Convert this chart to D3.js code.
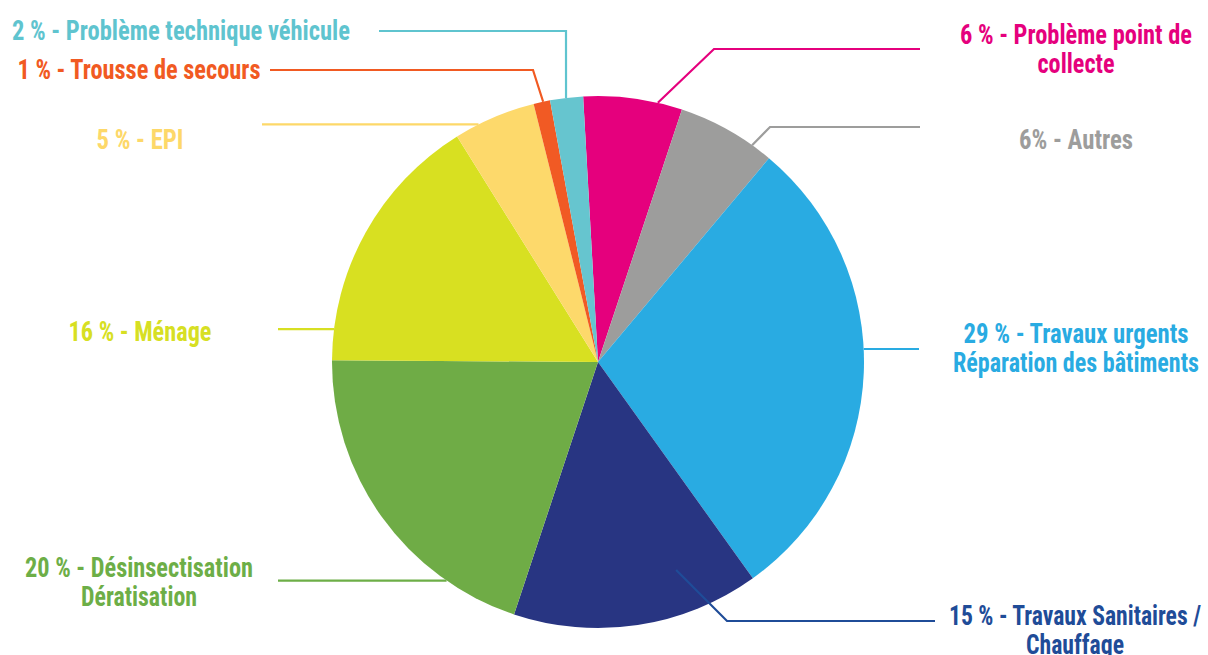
<!DOCTYPE html>
<html>
<head>
<meta charset="utf-8">
<script src="https://cdn.jsdelivr.net/npm/d3@7"></script>
<style>
    html, body { margin: 0; padding: 0; background: #ffffff; }
    #chart { width: 1208px; height: 655px; }
    text { font-family: "Roboto Condensed", "Liberation Sans Narrow", "DejaVu Sans Condensed", "Roboto", sans-serif; font-weight: 700; }
</style>
</head>
<body>
<div id="chart"></div>
<script>
// data, clockwise from the top
const categories = ["Problème point de collecte", "Autres", "Travaux urgents Réparation des bâtiments",
    "Travaux Sanitaires / Chauffage", "Désinsectisation Dératisation", "Ménage", "EPI",
    "Trousse de secours", "Problème technique véhicule"];
const values = [6, 6, 29, 15, 20, 16, 5, 1, 2];
const labelLines = [
    ["6 % - Problème point de", "collecte"],
    ["6% - Autres"],
    ["29 % - Travaux urgents", "Réparation des bâtiments"],
    ["15 % - Travaux Sanitaires /", "Chauffage"],
    ["20 % - Désinsectisation", "Dératisation"],
    ["16 % - Ménage"],
    ["5 % - EPI"],
    ["1 % - Trousse de secours"],
    ["2 % - Problème technique véhicule"]
];

const sliceColors = ["#e5007d", "#9d9d9c", "#29abe2", "#283582", "#6fac46", "#d8e021", "#fdd96b", "#f15a24", "#66c5cf"];
const textColors = ["#e5007d", "#9d9d9c", "#29abe2", "#1f4c98", "#6dae47", "#d7df23", "#fdd869", "#f15a22", "#5fc4cf"];

// leader lines and labels: angle (deg) where the line leaves the pie, radius factor,
// optional elbow, end of the line, label centre and first baseline, line widths
const layout = [
    { angle: 13, rf: 1.0, elbow: [714, 49], endX: 920, lx: 1076, ly: 44, w: [232, 77] },
    { angle: 35.4, rf: 1.0, elbow: [770, 127], endX: 920, lx: 1076, ly: 149, w: [114] },
    { angle: 87.2, rf: 1.0, elbow: null, endX: 919, lx: 1076, ly: 343, w: [225, 246] },
    { angle: 159.4, rf: 0.835, elbow: [727, 621], endX: 935, lx: 1075, ly: 625, w: [252, 98] },
    { angle: 214.7, rf: 1.0, elbow: null, endX: 278, lx: 139, ly: 577, w: [228, 116] },
    { angle: 277.1, rf: 1.0, elbow: null, endX: 278, lx: 140, ly: 341, w: [143] },
    { angle: 333.3, rf: 1.0, elbow: null, endX: 262, lx: 140, ly: 149, w: [87] },
    { angle: 348.1, rf: 1.0, elbow: [533, 70], endX: 270, lx: 139, ly: 79, w: [243] },
    { angle: 353.1, rf: 1.0, elbow: [566, 31], endX: 379, lx: 181, ly: 40, w: [338] }
];

render();

function render() {
    const width = 1208, height = 655;
    const cx = 598, cy = 362, radius = 266;
    const lineH = 29;

    const svg = d3.select('#chart').append('svg')
        .attr('width', width)
        .attr('height', height);

    const pie = d3.pie()
        .sort(null)
        .startAngle(-3.2 * Math.PI / 180)
        .endAngle(2 * Math.PI - 3.2 * Math.PI / 180);

    const data_ready = pie(values);

    const arcGenerator = d3.arc()
        .innerRadius(0)
        .outerRadius(radius);

    const g = svg.append('g')
        .attr('transform', `translate(${cx},${cy})`);

    g.selectAll('path')
        .data(data_ready)
        .join('path')
        .attr('d', arcGenerator)
        .attr('fill', (d, i) => sliceColors[i]);

    // point on the pie for a given angle (clockwise from north)
    function polar(deg, r) {
        const a = deg * Math.PI / 180;
        return [cx + r * Math.sin(a), cy - r * Math.cos(a)];
    }

    const lines = svg.append('g');
    layout.forEach(function (l, i) {
        const start = polar(l.angle, radius * l.rf);
        let pts;
        if (l.elbow) {
            pts = [start, l.elbow, [l.endX, l.elbow[1]]];
        } else {
            pts = [start, [l.endX, start[1]]];
        }
        lines.append('path')
            .attr('d', d3.line()(pts))
            .attr('fill', 'none')
            .attr('stroke', textColors[i])
            .attr('stroke-width', 2.2);
    });

    const labels = svg.append('g');
    labelLines.forEach(function (ls, i) {
        const l = layout[i];
        ls.forEach(function (t, j) {
            labels.append('text')
                .attr('x', l.lx)
                .attr('y', l.ly + j * lineH)
                .attr('text-anchor', 'middle')
                .attr('textLength', l.w[j])
                .attr('lengthAdjust', 'spacingAndGlyphs')
                .style('fill', textColors[i])
                .style('font-size', '27px')
                .text(t);
        });
    });
}
</script>
</body>
</html>
